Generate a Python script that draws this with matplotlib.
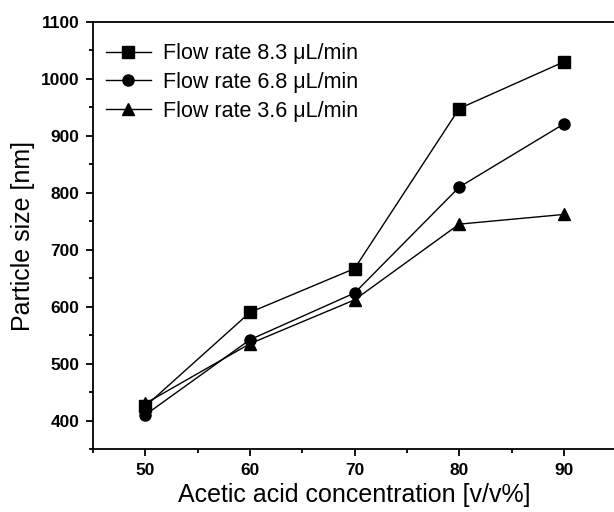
import matplotlib
matplotlib.use("Agg")
import matplotlib.pyplot as plt
from matplotlib.ticker import MultipleLocator

plt.rcParams['font.family'] = ['Liberation Sans', 'DejaVu Sans']

# acetic acid concentration [v/v%]
conc = [50, 60, 70, 80, 90]

# particle size [nm]
size_83 = [425, 590, 667, 948, 1030]
size_68 = [410, 542, 624, 810, 921]
size_36 = [430, 535, 612, 745, 762]

labels = ['Flow rate 8.3 \u03bcL/min', 'Flow rate 6.8 \u03bcL/min', 'Flow rate 3.6 \u03bcL/min']
markers = ['s', 'o', '^']

fig = plt.figure(figsize=(6.14, 5.12), dpi=100)
ax = fig.add_axes([0.1515, 0.123, 0.852, 0.834])

for y, lab, m in zip([size_83, size_68, size_36], labels, markers):
    ax.plot(conc, y, color='black', lw=1, marker=m, markersize=8, label=lab)

ax.set_xlim(45, 95)
ax.set_ylim(350, 1100)
ax.xaxis.set_major_locator(MultipleLocator(10))
ax.xaxis.set_minor_locator(MultipleLocator(5))
ax.yaxis.set_major_locator(MultipleLocator(100))
ax.yaxis.set_minor_locator(MultipleLocator(50))
ax.tick_params(which='both', direction='out', width=1.3, labelsize=12.5)
ax.tick_params(which='major', length=5, pad=5)
ax.tick_params(which='minor', length=3)
for lbl in ax.get_xticklabels() + ax.get_yticklabels():
    lbl.set_fontweight('bold')
for s in ax.spines.values():
    s.set_linewidth(1.3)

ax.set_xlabel('Acetic acid concentration [v/v%]', fontsize=18, labelpad=4)
ax.set_ylabel('Particle size [nm]', fontsize=18, labelpad=4)

ax.legend(loc='upper left', bbox_to_anchor=(0.008, 0.97), borderaxespad=0,
          frameon=False, fontsize=15.5, handlelength=2.1,
          handletextpad=0.55, labelspacing=0.35)

fig.savefig('out.png', dpi=100)
